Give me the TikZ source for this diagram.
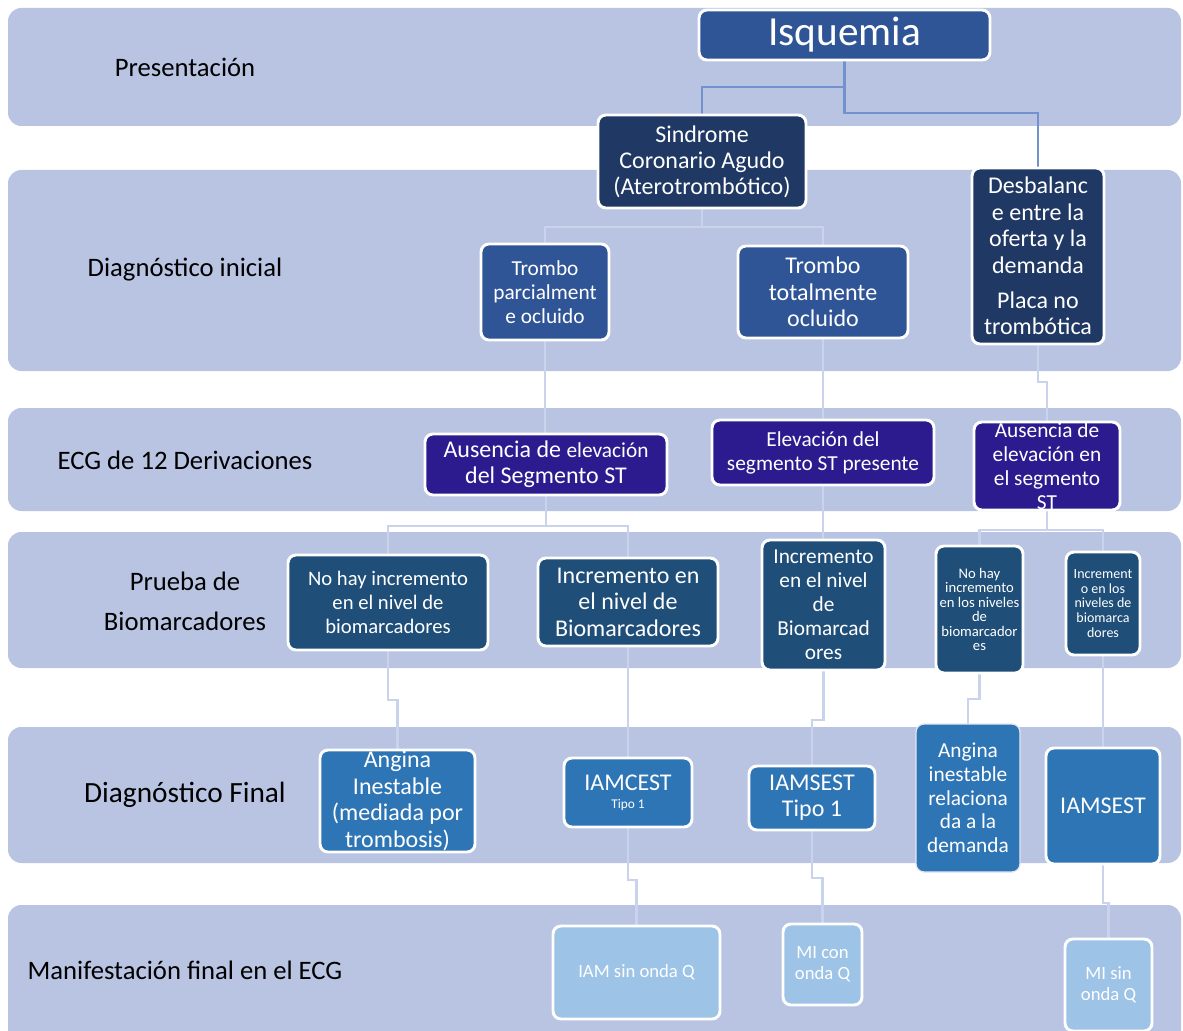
\documentclass[tikz,border=0pt]{standalone}
\usepackage{fontspec}
\setmainfont{Carlito}
\definecolor{bandc}{RGB}{184,196,226}
\definecolor{cIsq}{RGB}{47,85,151}
\definecolor{cNavy}{RGB}{32,56,100}
\definecolor{cTromb}{RGB}{47,85,151}
\definecolor{cEcg}{RGB}{43,27,143}
\definecolor{cBio}{RGB}{31,78,121}
\definecolor{cFin}{RGB}{46,117,182}
\definecolor{cMan}{RGB}{157,195,230}
\definecolor{connc}{RGB}{202,211,236}
\definecolor{connd}{RGB}{114,146,206}
\pgfdeclarelayer{bg}
\pgfdeclarelayer{mid}
\pgfsetlayers{bg,mid,main}
\newcommand\mybox[8]{%
  \pgfmathsetmacro\bw{(#4-#2)*0.75}%
  \pgfmathsetmacro\bh{(#5-#3)*0.75}%
  \node[#6, minimum width=\bw pt, minimum height=\bh pt] (#1) at ({(#2+#4)/2},{(#3+#5)/2}) {};
  \node[#7] (#1-t) at (#1.center) {#8};}
\newcommand\myband[4]{%
  \path[fill=bandc, rounded corners=10pt] (8,#2) rectangle (1181,#3);
  \coordinate (#1) at (8,#4);}
\tikzset{
  boxb/.style={draw=white, line width=2.2pt, rounded corners=6pt, inner sep=0pt, outer sep=0pt},
  txt/.style={text=white, align=center, inner sep=0pt},
  lab/.style={text=black, align=center, inner sep=0pt, font=\fontsize{20}{30}\selectfont},
  conn/.style={draw=connc, line width=1.7pt},
  connD/.style={draw=connd, line width=1.6pt},
}
\begin{document}
\begin{tikzpicture}[x=0.75pt,y=-0.75pt]
\useasboundingbox (0,0) rectangle (1183,1031);
\begin{pgfonlayer}{bg}
\myband{b1}{8}{126}{67}
\myband{b2}{170}{371}{270}
\myband{b3}{408}{511}{460}
\myband{b4}{532}{668}{600}
\myband{b5}{727}{863}{795}
\myband{b6}{905}{1045}{970}
\end{pgfonlayer}
% band labels
\node[lab] (l1) at (185,67) {Presentación};
\node[lab] (l2) at (185,270) {Diagnóstico inicial};
\node[lab] (l3) at (185,460) {ECG de 12 Derivaciones};
\node[lab] (l4) at (185,601) {Prueba de\\Biomarcadores};
\node[lab, font=\fontsize{22}{26}\selectfont] (l5) at (185,795) {Diagnóstico Final};
\node[lab] (l6) at (185,970) {Manifestación final en el ECG};
% boxes
\mybox{isq}{699}{10}{990}{60}{boxb, fill=cIsq}{txt, font=\fontsize{31}{36}\selectfont}{Isquemia}
\mybox{sca}{598}{115}{806}{208}{boxb, fill=cNavy}{txt, font=\fontsize{18}{19.5}\selectfont}{Sindrome\\Coronario Agudo\\(Aterotrombótico)}
\mybox{desb}{972}{168}{1104}{344}{boxb, fill=cNavy}{txt, font=\fontsize{18}{20}\selectfont}{Desbalanc\\e entre la\\oferta y la\\demanda\\[6pt]Placa no\\trombótica}
\mybox{tp}{481}{244}{609}{340}{boxb, fill=cTromb}{txt, font=\fontsize{16}{18}\selectfont}{Trombo\\parcialment\\e ocluido}
\mybox{tt}{738}{246}{908}{338}{boxb, fill=cTromb}{txt, font=\fontsize{18}{19.9}\selectfont}{Trombo\\totalmente\\ocluido}
\mybox{aus1}{425}{434}{667}{495}{boxb, fill=cEcg}{txt, font=\fontsize{18}{19.5}\selectfont}{Ausencia de {\fontsize{16}{18}\selectfont elevación}\\del Segmento ST}
\mybox{elev}{712}{420}{934}{485}{boxb, fill=cEcg}{txt, font=\fontsize{16}{18}\selectfont}{Elevación del\\segmento ST presente}
\mybox{aus2}{974}{422}{1120}{510}{boxb, fill=cEcg}{txt, font=\fontsize{16}{18}\selectfont}{Ausencia de\\elevación en\\el segmento\\ST}
\mybox{nh1}{288}{555}{488}{650}{boxb, fill=cBio}{txt, font=\fontsize{15.5}{18}\selectfont}{No hay incremento\\en el nivel de\\biomarcadores}
\mybox{inc1}{538}{558}{718}{646}{boxb, fill=cBio}{txt, font=\fontsize{18}{19.9}\selectfont}{Incremento en\\el nivel de\\Biomarcadores}
\mybox{inc2}{762}{540}{885}{670}{boxb, fill=cBio}{txt, font=\fontsize{16}{18}\selectfont}{Incremento\\en el nivel\\de\\Biomarcad\\ores}
\mybox{nh2}{936}{546}{1023}{673}{boxb, fill=cBio}{txt, font=\fontsize{11}{10.9}\selectfont}{No hay\\incremento\\en los niveles\\de\\biomarcador\\es}
\mybox{inc3}{1066}{552}{1140}{655}{boxb, fill=cBio}{txt, font=\fontsize{10.5}{11}\selectfont}{Increment\\o en los\\niveles de\\biomarca\\dores}
\mybox{ang1}{320}{750}{475}{852}{boxb, fill=cFin}{txt, font=\fontsize{18}{19.8}\selectfont}{Angina\\Inestable\\(mediada por\\trombosis)}
\mybox{iamc}{564}{758}{692}{827}{boxb, fill=cFin}{txt, font=\fontsize{18}{19.8}\selectfont}{IAMCEST\\[-6.6pt]{\fontsize{10}{12}\selectfont Tipo 1}}
\mybox{iams1}{749}{766}{875}{830}{boxb, fill=cFin}{txt, font=\fontsize{18}{19.5}\selectfont}{IAMSEST\\Tipo 1}
\mybox{ang2}{916}{724}{1020}{872}{boxb, draw=bandc!40!white, line width=1pt, fill=cFin}{txt, font=\fontsize{16}{17.8}\selectfont}{Angina\\inestable\\relaciona\\da a la\\demanda}
\mybox{iams2}{1046}{748}{1160}{864}{boxb, fill=cFin}{txt, font=\fontsize{18}{20}\selectfont}{IAMSEST}
\mybox{iam}{553}{926}{720}{1019}{boxb, fill=cMan}{txt, font=\fontsize{14}{16}\selectfont}{IAM sin onda Q}
\mybox{mic}{783}{924}{862}{1005}{boxb, fill=cMan}{txt, font=\fontsize{14}{15.8}\selectfont}{MI con\\onda Q}
\mybox{mis}{1065}{939}{1152}{1031}{boxb, fill=cMan}{txt, font=\fontsize{14}{15.8}\selectfont}{MI sin\\onda Q}
% connectors
\begin{pgfonlayer}{mid}
\draw[connD] (isq.south) -- (isq.south |- 0,113) -| (desb.north);
\draw[connD] (isq.south |- 0,87) -| (sca.north);
\draw[conn] (sca.south) -- (sca.south |- 0,227) -| (tp.north);
\draw[conn] (sca.south |- 0,227) -| (tt.north);
\draw[conn] (tp.south) -- (tp.south |- aus1.north);
\draw[conn] (tt.south) -- (tt.south |- elev.north);
\draw[conn] (elev.south) -- (elev.south |- inc2.north);
\draw[conn] (desb.south) -- (desb.south |- 0,382) -| (aus2.north);
\draw[conn] (aus1.south) -- (aus1.south |- 0,526) -| (nh1.north);
\draw[conn] (aus1.south |- 0,526) -| (inc1.north);
\draw[conn] (aus2.south) -- (aus2.south |- 0,530) -| (nh2.north);
\draw[conn] (aus2.south |- 0,530) -| (inc3.north);
\draw[conn] (nh1.south) -- (nh1.south |- 0,700) -| (ang1.north);
\draw[conn] (inc1.south) -- (inc1.south |- iamc.north);
\draw[conn] (inc2.south) -- (inc2.south |- 0,720) -| (iams1.north);
\draw[conn] (nh2.south) -- (nh2.south |- 0,699) -| (ang2.north);
\draw[conn] (inc3.south) -- (inc3.south |- iams2.north);
\draw[conn] (iamc.south) -- (iamc.south |- 0,880) -| (iam.north);
\draw[conn] (iams1.south) -- (iams1.south |- 0,878) -| (mic.north);
\draw[conn] (iams2.south) -- (iams2.south |- 0,903) -| (mis.north);
\end{pgfonlayer}
\end{tikzpicture}
\end{document}
